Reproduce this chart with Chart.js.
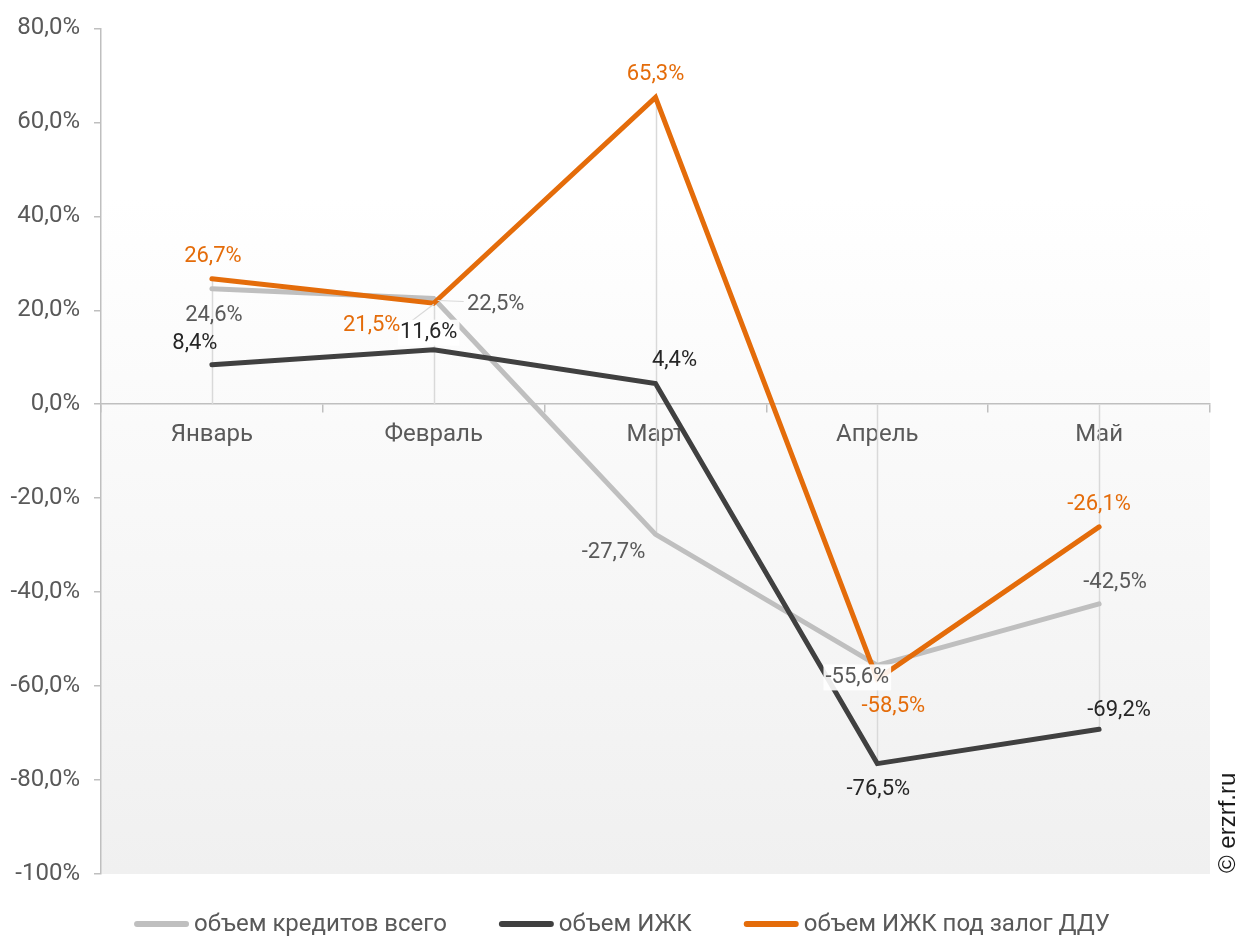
<!DOCTYPE html>
<html>
<head>
<meta charset="utf-8">
<script src="https://cdn.jsdelivr.net/npm/chart.js@4.4.1/dist/chart.umd.min.js"></script>
<style>
  html, body { margin: 0; padding: 0; background: #fff; }
  #wrap { width: 1248px; height: 936px; }
</style>
</head>
<body>
<div id="wrap"><canvas id="chart"></canvas></div>
<script>
// data
const months = ['Январь', 'Февраль', 'Март', 'Апрель', 'Май'];
const seriesNames = ['объем кредитов всего', 'объем ИЖК', 'объем ИЖК под залог ДДУ'];
const creditsTotal = [24.6, 22.5, -27.7, -55.6, -42.5];
const izhk = [8.4, 11.6, 4.4, -76.5, -69.2];
const izhkDdu = [26.7, 21.5, 65.3, -58.5, -26.1];
const yMin = -100, yMax = 80, yStep = 20;

const colors = ['#bfbfbf', '#404040', '#e46c0a'];
const labelColors = ['#595959', '#262626', '#e46c0a'];

// where each value label sits relative to its point (px)
const labelOffsets = [
  [[2, 27], [62, 6], [-42, 18], [-20, 12], [16, -21]],
  [[-17, -21], [-5, -17], [19, -23], [1, 26], [20, -19]],
  [[1, -22], [-62, 22], [0, -23], [16, 27], [0, -22]]
];

const fontFamily = 'Roboto, "Noto Sans", sans-serif';

function fmt(v) {
  if (v === -100) return '-100%';
  return v.toFixed(1).replace('.', ',') + '%';
}

const ctx = document.getElementById('chart').getContext('2d');

// plot area gradient
const bgPlugin = {
  id: 'plotBg',
  beforeDraw(chart) {
    const { ctx, chartArea: a } = chart;
    const g = ctx.createLinearGradient(0, a.top, 0, a.bottom);
    g.addColorStop(0, '#ffffff');
    g.addColorStop(0.2, '#ffffff');
    g.addColorStop(1, '#f0f0f0');
    ctx.save();
    ctx.fillStyle = g;
    ctx.fillRect(a.left, a.top, a.right - a.left, a.bottom - a.top);
    ctx.restore();
  }
};

// drop lines from the zero line to each point
const dropLines = {
  id: 'dropLines',
  beforeDatasetsDraw(chart) {
    const { ctx, scales: { x, y } } = chart;
    const all = [creditsTotal, izhk, izhkDdu];
    ctx.save();
    ctx.strokeStyle = '#d9d9d9';
    ctx.lineWidth = 1.5;
    months.forEach((m, i) => {
      const vals = all.map(s => s[i]);
      const top = Math.max(0, ...vals);
      const bot = Math.min(0, ...vals);
      const px = Math.round(x.getPixelForValue(i)) + 0.5;
      ctx.beginPath();
      ctx.moveTo(px, y.getPixelForValue(top));
      ctx.lineTo(px, y.getPixelForValue(bot));
      ctx.stroke();
    });
    ctx.restore();
  }
};

// value labels, leader lines, legend and watermark
const labelsPlugin = {
  id: 'valueLabels',
  afterDatasetsDraw(chart) {
    const { ctx } = chart;
    ctx.save();
    ctx.font = '22px ' + fontFamily;
    ctx.textAlign = 'center';
    ctx.textBaseline = 'middle';
    // leader lines for the two February labels
    const g1 = chart.getDatasetMeta(0).data[1];
    const o1 = chart.getDatasetMeta(2).data[1];
    ctx.strokeStyle = '#d9d9d9';
    ctx.lineWidth = 1.2;
    ctx.beginPath();
    ctx.moveTo(g1.x + 4, g1.y + 2);
    ctx.lineTo(g1.x + 30, g1.y + 3);
    ctx.moveTo(o1.x, o1.y + 1);
    ctx.lineTo(o1.x - 25, o1.y + 20);
    ctx.lineTo(o1.x - 31, o1.y + 20);
    ctx.stroke();

    chart.data.datasets.forEach((ds, di) => {
      const meta = chart.getDatasetMeta(di);
      meta.data.forEach((pt, i) => {
        const [dx, dy] = labelOffsets[di][i];
        const tx = pt.x + dx, ty = pt.y + dy;
        const txt = fmt(ds.data[i]);
        const boxed = (di === 0 && i === 3) || (di === 1 && i === 1);
        if (boxed) {
          const w = ctx.measureText(txt).width;
          ctx.fillStyle = 'rgba(255,255,255,0.9)';
          ctx.fillRect(tx - w / 2 - 2, ty - 13, w + 4, 26);
        }
        ctx.fillStyle = labelColors[di];
        ctx.fillText(txt, tx, ty);
      });
    });
    ctx.restore();
  },
  afterDraw(chart) {
    const { ctx } = chart;
    ctx.save();
    // legend
    ctx.font = '24px ' + fontFamily;
    ctx.textBaseline = 'middle';
    ctx.textAlign = 'left';
    const lineLen = 55, gapAfter = 5, gapBetween = 52, ly = 924;
    const widths = seriesNames.map(n => ctx.measureText(n).width);
    const total = widths.reduce((s, w) => s + lineLen + gapAfter + w, 0) + gapBetween * (seriesNames.length - 1);
    let lx = 622 - total / 2;
    seriesNames.forEach((n, i) => {
      ctx.strokeStyle = colors[i];
      ctx.lineWidth = 6;
      ctx.lineCap = 'round';
      ctx.beginPath();
      ctx.moveTo(lx + 3, ly);
      ctx.lineTo(lx + lineLen - 3, ly);
      ctx.stroke();
      ctx.fillStyle = '#595959';
      ctx.fillText(n, lx + lineLen + gapAfter, ly + 1);
      lx += lineLen + gapAfter + widths[i] + gapBetween;
    });
    // watermark
    ctx.translate(1228, 873);
    ctx.rotate(-Math.PI / 2);
    ctx.font = '24px "Liberation Sans", Arial, sans-serif';
    ctx.fillStyle = '#1a1a1a';
    ctx.textAlign = 'left';
    ctx.fillText('© erzrf.ru', 0, 0);
    ctx.restore();
  }
};

const chart = new Chart(ctx, {
  type: 'line',
  data: {
    labels: months,
    datasets: [
      { label: seriesNames[0], data: creditsTotal, borderColor: colors[0], order: 2 },
      { label: seriesNames[1], data: izhk, borderColor: colors[1], order: 1 },
      { label: seriesNames[2], data: izhkDdu, borderColor: colors[2], order: 0 }
    ]
  },
  options: {
    responsive: true,
    maintainAspectRatio: false,
    animation: false,
    layout: { padding: { left: 0, top: 25, right: 38, bottom: 62 } },
    elements: {
      line: { borderWidth: 5, tension: 0, fill: false, borderCapStyle: 'round' },
      point: { radius: 0, hoverRadius: 0 }
    },
    plugins: {
      legend: { display: false },
      tooltip: { enabled: false },
      title: { display: false }
    },
    scales: {
      x: {
        position: { y: 0 },
        offset: true,
        grid: { offset: true, drawOnChartArea: false, drawTicks: true, tickLength: 8, color: '#bfbfbf', lineWidth: 1.5 },
        border: { display: true, color: '#bfbfbf', width: 1.5 },
        ticks: { color: '#595959', font: { family: fontFamily, size: 24 }, padding: 8, maxRotation: 0 }
      },
      y: {
        min: yMin,
        max: yMax,
        afterFit(scale) { scale.width = 101; },
        grid: { drawOnChartArea: false, drawTicks: true, tickLength: 7, color: '#bfbfbf', lineWidth: 1.5 },
        border: { display: true, color: '#bfbfbf', width: 1.5 },
        ticks: {
          stepSize: yStep,
          color: '#595959',
          font: { family: fontFamily, size: 24 },
          padding: 14,
          callback: v => fmt(v)
        }
      }
    }
  },
  plugins: [bgPlugin, dropLines, labelsPlugin]
});
</script>
</body>
</html>
